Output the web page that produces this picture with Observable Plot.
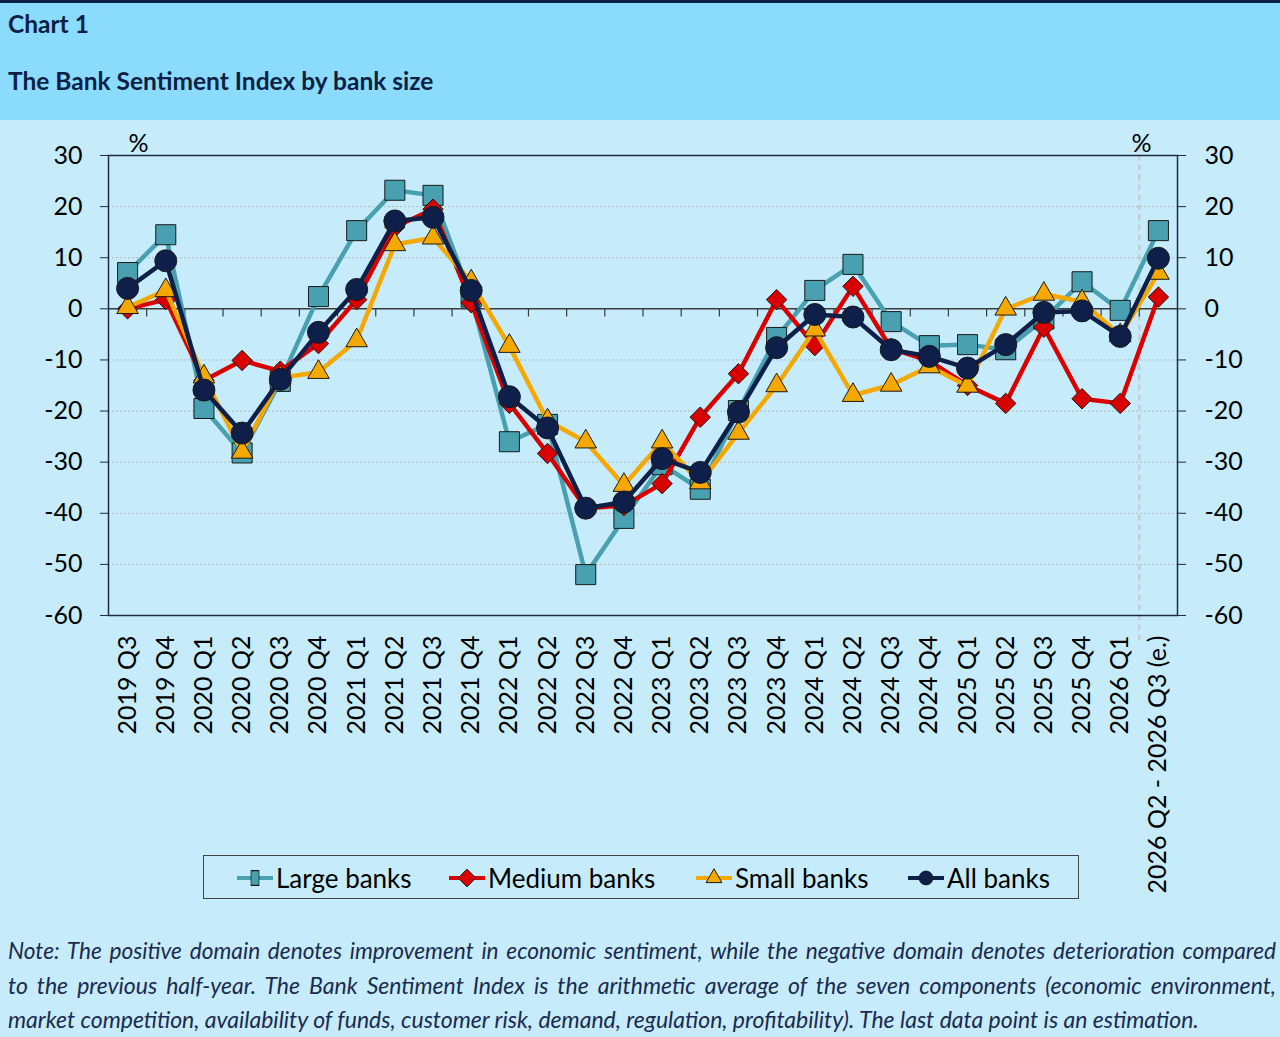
<!DOCTYPE html>
<html>
<head>
<meta charset="utf-8">
<script src="https://cdn.jsdelivr.net/npm/d3@7"></script>
<script src="https://cdn.jsdelivr.net/npm/@observablehq/plot@0.6"></script>
<style>
  html, body { margin: 0; padding: 0; overflow: hidden; }
  #page { position: relative; width: 1280px; height: 1037px; background: #C6ECFC; font-family: Lato, sans-serif; }
  #header { position: absolute; left: 0; top: 0; width: 1280px; height: 117px; background: #8BDBFD; border-top: 3px solid #0E1F45; }
  .h1 { position: absolute; left: 8px; font-weight: bold; color: #0E1F45; font-size: 24.5px; }
  #chart { position: absolute; left: 0; top: 120px; }
  #legend { position: absolute; left: 203px; top: 855px; width: 876px; height: 44px; border: 1px solid #444; box-sizing: border-box; }
  .li { position: absolute; top: 0; height: 44px; display: flex; align-items: center; font-size: 26px; color: #000; }
  .li svg { margin-right: 2px; }
  #note { position: absolute; left: 8px; top: 934px; width: 1268px; font-style: italic; font-size: 23px; color: #1B2A4E; line-height: 34px; }
  #note div { text-align: justify; text-align-last: justify; white-space: nowrap; }
  #note div.first { font-size: 22.7px; }
  #note div.last { text-align-last: left; }
</style>
</head>
<body>
<div id="page">
  <div id="header">
    <div class="h1" style="top:6px">Chart 1</div>
    <div class="h1" style="top:63px">The Bank Sentiment Index by bank size</div>
  </div>
  <div id="chart"></div>
  <div id="legend"></div>
  <div id="note">
    <div class="first">Note: The positive domain denotes improvement in economic sentiment, while the negative domain denotes deterioration compared</div>
    <div>to the previous half-year. The Bank Sentiment Index is the arithmetic average of the seven components (economic environment,</div>
    <div class="last">market competition, availability of funds, customer risk, demand, regulation, profitability). The last data point is an estimation.</div>
  </div>
</div>
<script>
const categories = [
  "2019 Q3", "2019 Q4",
  "2020 Q1", "2020 Q2", "2020 Q3", "2020 Q4",
  "2021 Q1", "2021 Q2", "2021 Q3", "2021 Q4",
  "2022 Q1", "2022 Q2", "2022 Q3", "2022 Q4",
  "2023 Q1", "2023 Q2", "2023 Q3", "2023 Q4",
  "2024 Q1", "2024 Q2", "2024 Q3", "2024 Q4",
  "2025 Q1", "2025 Q2", "2025 Q3", "2025 Q4",
  "2026 Q1", "2026 Q2 - 2026 Q3 (e.)"
];
const largeBanks  = [7.1, 14.5, -19.5, -28.2, -14.2, 2.4, 15.3, 23.2, 22.2, 2.3, -26.0, -22.6, -52.0, -41.0, -30.5, -35.3, -19.9, -5.6, 3.6, 8.7, -2.5, -7.2, -7.0, -8.0, -2.0, 5.3, -0.3, 15.3];
const mediumBanks = [0.0, 1.8, -14.0, -10.1, -12.2, -6.8, 1.8, 16.0, 19.5, 1.2, -18.5, -28.3, -39.0, -38.5, -34.2, -21.2, -12.7, 1.8, -7.2, 4.4, -7.8, -10.2, -15.0, -18.5, -3.6, -17.6, -18.5, 2.3];
const smallBanks  = [0.3, 3.6, -13.3, -28.0, -13.5, -12.4, -6.2, 12.6, 13.9, 5.3, -7.3, -21.9, -26.0, -34.5, -26.0, -34.0, -24.3, -15.0, -4.1, -16.9, -14.9, -11.3, -15.1, 0.0, 2.9, 1.4, -5.2, 7.0];
const allBanks    = [4.0, 9.4, -15.9, -24.3, -13.8, -4.6, 3.8, 17.2, 17.9, 3.6, -17.2, -23.3, -39.0, -37.8, -29.3, -32.0, -20.2, -7.6, -1.1, -1.6, -8.0, -9.3, -11.6, -7.0, -0.7, -0.4, -5.4, 9.9];
const seriesNames = ["Large banks", "Medium banks", "Small banks", "All banks"];
const yTicks = [-60, -50, -40, -30, -20, -10, 0, 10, 20, 30];

const styles = [
  {name: seriesNames[0], values: largeBanks,  color: "#48A0B0", symbol: "square",   r: 11.3},
  {name: seriesNames[1], values: mediumBanks, color: "#D90000", symbol: "diamond2", r: 9.2},
  {name: seriesNames[2], values: smallBanks,  color: "#F5A800", symbol: "triangle", r: 8.0},
  {name: seriesNames[3], values: allBanks,    color: "#0E1F4A", symbol: "circle",   r: 11}
];

const idx = d3.range(categories.length);
const seriesMarks = styles.flatMap(s => {
  const rows = s.values.map((v, i) => ({i, v}));
  return [
    Plot.line(rows, {x: "i", y: "v", stroke: s.color, strokeWidth: 4.5}),
    Plot.dot(rows, {x: "i", y: "v", symbol: () => s.symbol, r: s.r, fill: s.color, stroke: "#1a1a1a", strokeWidth: 1})
  ];
});

const plot = Plot.plot({
  width: 1280,
  height: 800,
  marginTop: 35,
  marginBottom: 305,
  marginLeft: 108,
  marginRight: 103,
  x: {type: "linear", domain: [-0.5, categories.length - 0.5]},
  y: {domain: [-60, 30]},
  symbol: {type: "identity"},
  style: {background: "transparent", fontFamily: "Lato, sans-serif", fontSize: "25px", color: "#000", overflow: "visible"},
  marks: [
    Plot.ruleY(yTicks.filter(t => t !== 0 && t !== 30 && t !== -60), {stroke: "#b8b8b8", strokeDasharray: "2,2", strokeWidth: 1}),
    Plot.ruleX([categories.length - 1.5], {y1: -65, y2: 32, stroke: "#c8c8c8", strokeWidth: 2, strokeDasharray: "6,4", clip: false}),
    Plot.ruleY([0], {stroke: "#3a3a3a", strokeWidth: 1.5}),
    Plot.ruleX(idx.slice(0, -1).map(i => i + 0.5), {y1: 0, y2: -1.6, stroke: "#3a3a3a", strokeWidth: 1.2}),
    Plot.frame({stroke: "#1f2a3f", strokeWidth: 1.5}),
    Plot.axisY({anchor: "left", ticks: yTicks, tickFormat: d => String(d), tickSize: 8, tickPadding: 18, fontSize: 25, label: null, stroke: "#1f2a3f"}),
    Plot.axisY({anchor: "right", ticks: yTicks, tickFormat: d => String(d), tickSize: 8, tickPadding: 19, fontSize: 25, label: null, stroke: "#1f2a3f"}),
    Plot.axisX({anchor: "bottom", ticks: idx, tickFormat: i => categories[i], tickRotate: -90, tickSize: 0, tickPadding: 20, fontSize: 25, label: null}),
    Plot.text(["%"], {frameAnchor: "top-left", dx: 20, dy: -4, lineAnchor: "bottom", fontSize: 25}),
    Plot.text(["%"], {frameAnchor: "top-right", dx: -26, dy: -4, lineAnchor: "bottom", fontSize: 25}),
    ...seriesMarks
  ]
});
document.getElementById("chart").appendChild(plot);

// Legend
const legend = d3.select("#legend");
const legendX = [32, 244, 491, 703];
styles.forEach((s, k) => {
  const item = legend.append("div").attr("class", "li").style("left", legendX[k] + "px");
  const svg = item.append("svg").attr("width", 38).attr("height", 24);
  svg.append("line").attr("x1", 1).attr("x2", 37).attr("y1", 12).attr("y2", 12).attr("stroke", s.color).attr("stroke-width", 4);
  const sym = {square: d3.symbolSquare, diamond2: d3.symbolDiamond2, triangle: d3.symbolTriangle, circle: d3.symbolCircle}[s.symbol];
  const size = {square: 130, diamond2: 200, triangle: 110, circle: 150}[s.symbol];
  svg.append("path").attr("d", d3.symbol(sym, size)()).attr("transform", s.symbol === "square" ? "translate(19,12) scale(0.7,1.3)" : "translate(19,12)")
    .attr("fill", s.color).attr("stroke", "#1a1a1a").attr("stroke-width", 1);
  item.append("span").text(s.name);
});
</script>
</body>
</html>
